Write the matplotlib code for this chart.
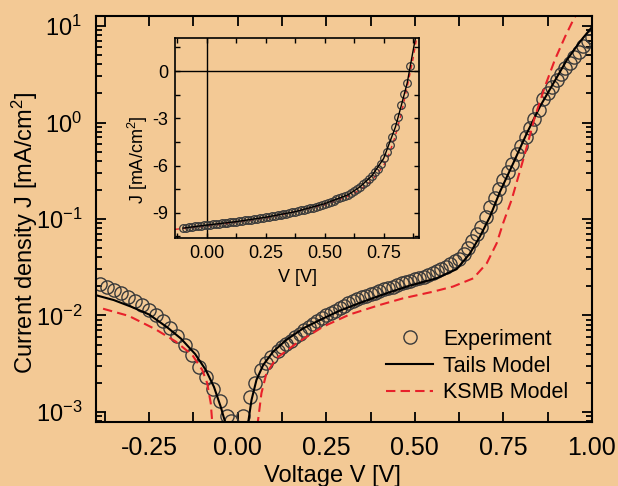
import numpy as np
import matplotlib
matplotlib.use("Agg")
import matplotlib.pyplot as plt
from matplotlib.ticker import MultipleLocator, FormatStrFormatter, LogLocator

plt.rcParams['font.family'] = ['Liberation Sans', 'DejaVu Sans']
plt.rcParams['mathtext.fontset'] = 'custom'
plt.rcParams['mathtext.rm'] = 'Liberation Sans'
plt.rcParams['mathtext.it'] = 'Liberation Sans:italic'
plt.rcParams['mathtext.default'] = 'regular'
plt.rcParams['axes.unicode_minus'] = False

BG = '#f3c995'
RED = '#e8202a'

# ---- main plot: dark J-V, log scale (values are log10 of |J| in mA/cm^2)
exp_v = [-0.39, -0.37, -0.35, -0.33, -0.31, -0.29, -0.27, -0.25, -0.23, -0.21,
         -0.19, -0.17, -0.15, -0.13, -0.11, -0.09, -0.07, -0.05, -0.03, -0.018,
         0.015, 0.035, 0.05, 0.065, 0.08, 0.095,
         0.1125, 0.125, 0.1375, 0.15, 0.1625, 0.175, 0.1875, 0.2, 0.2125, 0.225,
         0.2375, 0.25, 0.2625, 0.275, 0.2875, 0.3, 0.3125, 0.325, 0.3375, 0.35,
         0.3625, 0.375, 0.3875, 0.4, 0.4125, 0.425, 0.4375, 0.45, 0.4625, 0.475,
         0.4875, 0.5, 0.5125, 0.525, 0.5375, 0.55, 0.5625, 0.575, 0.5875, 0.6,
         0.6125, 0.625, 0.6375, 0.65, 0.6625, 0.675, 0.6875, 0.7, 0.7125, 0.725,
         0.7375, 0.75, 0.7625, 0.775, 0.7875, 0.8, 0.8125, 0.825, 0.8375, 0.85,
         0.8625, 0.875, 0.8875, 0.9, 0.9125, 0.925, 0.9375, 0.95, 0.9625, 0.975,
         0.9875, 1.0]
exp_logj = [-1.67, -1.70, -1.735, -1.77, -1.81, -1.85, -1.89, -1.94, -1.99, -2.06,
            -2.13, -2.21, -2.31, -2.41, -2.53, -2.64, -2.76, -2.89, -3.04, -3.09,
            -3.04, -2.84, -2.70, -2.57, -2.49, -2.43,
            -2.37, -2.33, -2.295, -2.26, -2.225, -2.19, -2.155, -2.12, -2.09, -2.06,
            -2.03, -2.0, -1.975, -1.95, -1.925, -1.9, -1.875, -1.85, -1.83, -1.81,
            -1.795, -1.78, -1.765, -1.75, -1.73, -1.715, -1.70, -1.68, -1.665, -1.65,
            -1.64, -1.625, -1.615, -1.60, -1.58, -1.56, -1.54, -1.52, -1.495, -1.47,
            -1.44, -1.41, -1.36, -1.30, -1.23, -1.16, -1.08, -0.98, -0.88, -0.78,
            -0.69, -0.60, -0.51, -0.43, -0.33, -0.24, -0.15, -0.06, 0.04, 0.13,
            0.24, 0.31, 0.37, 0.44, 0.50, 0.56, 0.62, 0.68, 0.73, 0.79,
            0.84, 0.89]

tails_v_neg = [-0.40, -0.35, -0.30, -0.25, -0.20, -0.16, -0.12, -0.09, -0.067, -0.048, -0.035, -0.03]
tails_logj_neg = [-1.79, -1.84, -1.91, -1.99, -2.12, -2.24, -2.40, -2.565, -2.74, -2.945, -3.11, -3.3]
tails_v_pos = [0.026, 0.03, 0.039, 0.053, 0.072, 0.10, 0.137, 0.185, 0.232, 0.288, 0.354,
               0.42, 0.486, 0.561, 0.618, 0.655, 0.684, 0.712, 0.74, 0.778, 0.816,
               0.853, 0.891, 0.929, 0.966, 1.0]
tails_logj_pos = [-3.3, -3.10, -2.876, -2.668, -2.513, -2.375, -2.254, -2.133, -2.047, -1.95, -1.857,
                  -1.77, -1.69, -1.615, -1.52, -1.36, -1.18, -0.976, -0.72, -0.42, -0.112,
                  0.164, 0.406, 0.648, 0.837, 0.99]

ksmb_v_neg = [-0.38, -0.307, -0.232, -0.175, -0.128, -0.10, -0.086, -0.076, -0.072, -0.07]
ksmb_logj_neg = [-1.93, -2.005, -2.143, -2.27, -2.41, -2.565, -2.703, -2.91, -3.1, -3.3]
ksmb_v_pos = [0.055, 0.057, 0.067, 0.081, 0.109, 0.166, 0.241, 0.316, 0.401, 0.467, 0.552,
              0.608, 0.665, 0.703, 0.731, 0.749, 0.773, 0.792, 0.811, 0.839, 0.867,
              0.895, 0.924, 0.947, 0.96]
ksmb_logj_pos = [-3.3, -3.1, -2.806, -2.6, -2.444, -2.288, -2.116, -1.99, -1.891, -1.822, -1.753,
                 -1.70, -1.615, -1.459, -1.252, -1.045, -0.803, -0.562, -0.319, 0.06, 0.371,
                 0.648, 0.889, 1.062, 1.15]

# ---- inset: illuminated J-V, linear scale
in_exp_v = [-0.1, -0.0875, -0.075, -0.0625, -0.05, -0.0375, -0.025, -0.0125, 0.0, 0.0125,
            0.025, 0.0375, 0.05, 0.0625, 0.075, 0.0875, 0.1, 0.1125, 0.125, 0.1375,
            0.15, 0.1625, 0.175, 0.1875, 0.2, 0.2125, 0.225, 0.2375, 0.25, 0.2625,
            0.275, 0.2875, 0.3, 0.3125, 0.325, 0.3375, 0.35, 0.3625, 0.375, 0.3875,
            0.4, 0.4125, 0.425, 0.4375, 0.45, 0.4625, 0.475, 0.4875, 0.5, 0.5125,
            0.525, 0.5375, 0.55, 0.5625, 0.575, 0.5875, 0.6, 0.6125, 0.625, 0.6375,
            0.65, 0.6625, 0.675, 0.6875, 0.7, 0.7125, 0.725, 0.7375, 0.75, 0.7625,
            0.775, 0.7875, 0.8, 0.8125, 0.825, 0.8375, 0.85, 0.8625]
in_exp_j = [-9.97, -9.95, -9.92, -9.90, -9.87, -9.85, -9.83, -9.80, -9.78, -9.76,
            -9.74, -9.72, -9.70, -9.67, -9.65, -9.63, -9.61, -9.58, -9.56, -9.54,
            -9.51, -9.48, -9.46, -9.43, -9.40, -9.37, -9.34, -9.31, -9.28, -9.25,
            -9.22, -9.19, -9.16, -9.13, -9.09, -9.05, -9.01, -8.97, -8.93, -8.89,
            -8.85, -8.81, -8.77, -8.72, -8.67, -8.61, -8.55, -8.49, -8.42, -8.36,
            -8.29, -8.22, -8.15, -8.08, -8.01, -7.93, -7.85, -7.75, -7.64, -7.50,
            -7.35, -7.19, -7.03, -6.85, -6.65, -6.43, -6.20, -5.90, -5.55, -5.15,
            -4.70, -4.17, -3.55, -2.90, -2.18, -1.48, -0.75, 0.35]

in_tails_v = [-0.1, 0.0, 0.125, 0.25, 0.375, 0.5, 0.6, 0.65, 0.7, 0.75, 0.8, 0.825, 0.85, 0.875, 0.885]
in_tails_j = [-9.97, -9.78, -9.56, -9.28, -8.93, -8.42, -7.85, -7.35, -6.65, -5.55, -3.55, -2.18, -0.75, 1.3, 2.1]
in_ksmb_v = [-0.135, 0.0, 0.25, 0.5, 0.6, 0.65, 0.7, 0.75, 0.775, 0.8, 0.825, 0.85, 0.875, 0.89]
in_ksmb_j = [-10.05, -9.85, -9.35, -8.5, -7.95, -7.55, -6.95, -6.0, -5.2, -4.1, -2.7, -1.0, 0.8, 2.1]

fig = plt.figure(figsize=(6.18, 4.86), dpi=100, facecolor=BG)
ax = fig.add_axes([0.1553, 0.1317, 0.8026, 0.8354], facecolor=BG)

ax.plot(exp_v, 10 ** np.array(exp_logj), 'o', ms=9.5, mfc='none', mec='#3a3a3a', mew=1.0,
        label='Experiment')
ax.plot(tails_v_neg, 10 ** np.array(tails_logj_neg), '-', color='black', lw=1.5, label='Tails Model')
ax.plot(tails_v_pos, 10 ** np.array(tails_logj_pos), '-', color='black', lw=1.5)
ax.plot(ksmb_v_neg, 10 ** np.array(ksmb_logj_neg), '--', color=RED, lw=1.5, dashes=(4.5, 2.5),
        label='KSMB Model')
ax.plot(ksmb_v_pos, 10 ** np.array(ksmb_logj_pos), '--', color=RED, lw=1.5, dashes=(4.5, 2.5))

ax.set_yscale('log')
ax.set_xlim(-0.4, 1.0)
ax.set_ylim(10 ** -3.104, 10 ** 1.104)
ax.xaxis.set_major_locator(MultipleLocator(0.25))
ax.xaxis.set_minor_locator(MultipleLocator(0.125))
ax.xaxis.set_major_formatter(FormatStrFormatter('%.2f'))
ax.yaxis.set_major_locator(LogLocator(base=10))
ax.yaxis.set_minor_locator(LogLocator(base=10, subs=np.arange(2, 10)))
ax.tick_params(which='both', direction='in', top=True, right=True, width=1.3)
ax.tick_params(which='major', length=7)
ax.tick_params(which='minor', length=4)
ax.tick_params(axis='x', which='minor', length=7)
ax.tick_params(axis='x', labelsize=18, pad=10)
ax.tick_params(axis='y', labelsize=17, pad=10)
for s in ax.spines.values():
    s.set_linewidth(1.5)
ax.set_xlabel('Voltage V [V]', fontsize=17)
ax.set_ylabel('Current density J [mA/cm$^2$]', fontsize=17)
ax.xaxis.set_label_coords((332 - 96) / 496, -(476 - 422) / 406)
ax.yaxis.set_label_coords(-(96 - 25) / 496, (422 - 233) / 406)
ax.xaxis.label.set_va('center')
ax.yaxis.label.set_va('center')

ax.legend(loc='upper left', bbox_to_anchor=(386 / 618, 1 - 329 / 486), bbox_transform=fig.transFigure,
          frameon=False, fontsize=15.5, borderpad=0, borderaxespad=0, labelspacing=0.26,
          handlelength=2.2, handletextpad=0.45)

ins = fig.add_axes([0.2832, 0.5103, 0.3948, 0.4115], facecolor=BG)
ins.axhline(0, color='black', lw=1.0)
ins.axvline(0, color='black', lw=1.0)
ins.plot(in_ksmb_v, in_ksmb_j, '--', color=RED, lw=1.0, dashes=(3, 3))
ins.plot(in_exp_v, in_exp_j, 'o', ms=5.5, mfc='none', mec='#3a3a3a', mew=0.9)
ins.plot(in_tails_v, in_tails_j, '-', color='black', lw=1.0)
ins.set_xlim(-0.135, 0.9)
ins.set_ylim(-10.6, 2.1)
ins.xaxis.set_major_locator(MultipleLocator(0.25))
ins.xaxis.set_minor_locator(MultipleLocator(0.125))
ins.xaxis.set_major_formatter(FormatStrFormatter('%.2f'))
ins.yaxis.set_major_locator(MultipleLocator(3))
ins.yaxis.set_minor_locator(MultipleLocator(1.5))
ins.yaxis.set_major_formatter(FormatStrFormatter('%d'))
ins.tick_params(which='both', direction='in', top=True, right=True, width=1.0, length=3.5,
                labelsize=13, pad=5)
for s in ins.spines.values():
    s.set_linewidth(1.2)
ins.set_xlabel('V [V]', fontsize=13)
ins.set_ylabel('J [mA/cm$^2$]', fontsize=13)
ins.xaxis.set_label_coords((297 - 175) / 244, -(278 - 238) / 200)
ins.yaxis.set_label_coords(-(175 - 138) / 244, (238 - 160) / 200)
ins.xaxis.label.set_va('center')
ins.yaxis.label.set_va('center')

fig.savefig('out.png', dpi=100, facecolor=BG)
